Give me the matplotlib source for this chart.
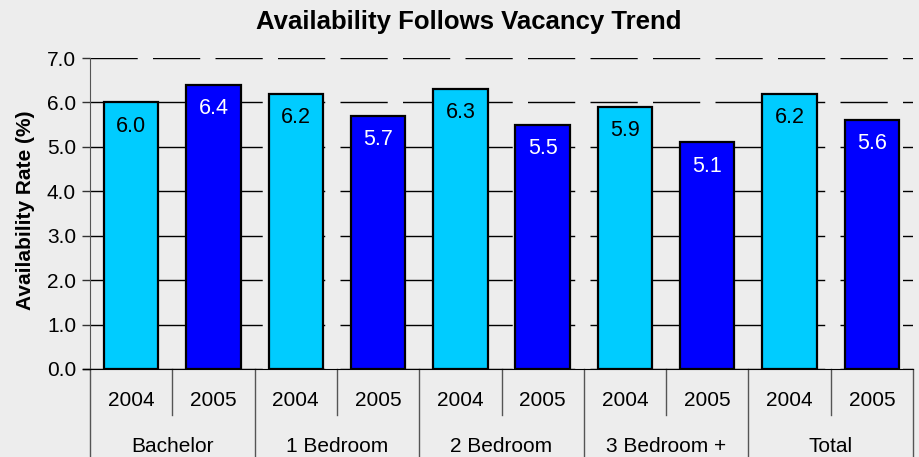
import matplotlib
matplotlib.use("Agg")
import matplotlib.pyplot as plt

plt.rcParams['font.family'] = ['Liberation Sans', 'DejaVu Sans']
plt.rcParams['lines.scale_dashes'] = False

categories = ["Bachelor", "1 Bedroom", "2 Bedroom", "3 Bedroom +", "Total"]
years = ["2004", "2005"]
values_2004 = [6.0, 6.2, 6.3, 5.9, 6.2]
values_2005 = [6.4, 5.7, 5.5, 5.1, 5.6]
y_ticks = [0.0, 1.0, 2.0, 3.0, 4.0, 5.0, 6.0, 7.0]
title = "Availability Follows Vacancy Trend"
y_label = "Availability Rate (%)"

bg = "#EDEDED"
W, H = 919, 457
fig = plt.figure(figsize=(W / 100, H / 100), dpi=100, facecolor=bg)
left, right, top, bottom = 90, 913, 58, 369
ax = fig.add_axes([left / W, (H - bottom) / H, (right - left) / W, (bottom - top) / H])
ax.set_facecolor(bg)

n = len(categories)
xs04 = [2 * i + 0.5 for i in range(n)]
xs05 = [2 * i + 1.5 for i in range(n)]
bw = 0.66
ax.bar(xs04, values_2004, width=bw, color="#00CCFF", edgecolor="black", linewidth=1.6, zorder=3)
ax.bar(xs05, values_2005, width=bw, color="#0000FF", edgecolor="black", linewidth=1.6, zorder=3)

for x, v in zip(xs04, values_2004):
    ax.annotate(f"{v:.1f}", (x, v), xytext=(0, -17), textcoords="offset points",
                ha="center", va="center", fontsize=15.5, color="black", zorder=4)
for x, v in zip(xs05, values_2005):
    ax.annotate(f"{v:.1f}", (x, v), xytext=(0, -17), textcoords="offset points",
                ha="center", va="center", fontsize=15.5, color="white", zorder=4)

ax.set_xlim(0, 2 * n)
ax.set_ylim(0, 7)
ax.set_yticks(y_ticks)
ax.set_yticklabels([f"{t:.1f}" for t in y_ticks], fontsize=15)
ax.tick_params(axis="y", length=6, width=1, color="#333333", pad=4)
ax.set_xticks([])
ax.yaxis.grid(True, color="black", linewidth=1, linestyle=(0, (34, 11)))
ax.set_axisbelow(True)
for s in ["top", "right"]:
    ax.spines[s].set_visible(False)
ax.spines["left"].set_color("#555555")
ax.spines["bottom"].set_color("black")

fig.text(468.5 / W, (H - 29) / H, title, fontsize=18.5, fontweight="bold",
         ha="center", va="baseline")
fig.text(26 / W, (H - 210) / H, y_label, fontsize=15, fontweight="bold",
         rotation=90, ha="center", va="center")

# category table below axis
tr = ax.get_xaxis_transform()
ph = bottom - top
row1 = -(415 - bottom) / ph
row2 = -(H - bottom) / ph
for i in range(n + 1):
    ax.plot([2 * i, 2 * i], [0, row2], transform=tr, color="#555555", lw=1, clip_on=False)
for i in range(n):
    ax.plot([2 * i + 1, 2 * i + 1], [0, row1], transform=tr, color="#555555", lw=1, clip_on=False)
    ax.text(xs04[i], -(400 - bottom) / ph, years[0], transform=tr,
            ha="center", va="center", fontsize=15)
    ax.text(xs05[i], -(400 - bottom) / ph, years[1], transform=tr,
            ha="center", va="center", fontsize=15)
    ax.text(2 * i + 1, -(446 - bottom) / ph, categories[i], transform=tr,
            ha="center", va="center", fontsize=15)
ax.plot([-0.08, 0], [0, 0], transform=tr, color="black", lw=1, clip_on=False)

fig.savefig("out.png", dpi=100, facecolor=bg)
